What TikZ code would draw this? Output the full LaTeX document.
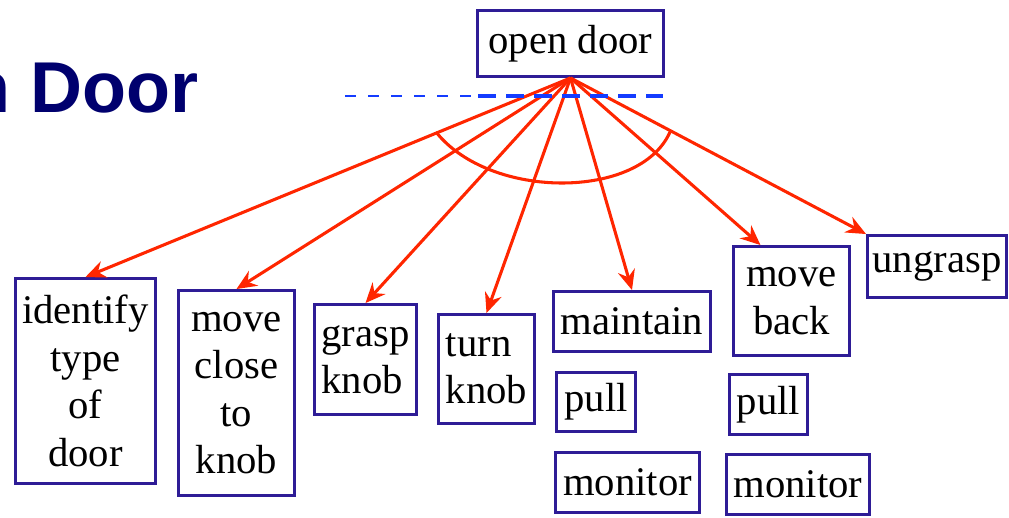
\documentclass[tikz,border=0pt]{standalone}
\usepackage{fontspec}
\setmainfont{Liberation Serif}
\newfontfamily\titlefont{Liberation Sans}
\usetikzlibrary{arrows.meta}
\definecolor{boxblue}{RGB}{46,28,150}
\definecolor{arcred}{RGB}{255,38,0}
\definecolor{lineblue}{RGB}{20,60,255}
\definecolor{navy}{RGB}{0,0,110}
\begin{document}
\begin{tikzpicture}[x=0.75pt, y=-0.75pt,
  task/.style={draw=boxblue, line width=2.2pt, fill=white, inner sep=0pt,
    align=center, font=\fontsize{30.5pt}{35.6pt}\selectfont},
  sub/.style={draw=arcred, line width=2.3pt,
    -{Stealth[length=15pt, width=13pt, inset=5pt]}}]
  \useasboundingbox (0,0) rectangle (1009,517);
  \node[anchor=base east, inner sep=0pt, text=navy,
    font=\titlefont\bfseries\fontsize{54pt}{60pt}\selectfont] (title) at (199,112) {n Door};
  \node[task, minimum width=139.5pt, minimum height=49.5pt] (t0) at (570.5,43.5) {open door};
  \node[task, minimum width=105pt, minimum height=153.75pt] (t1) at (85.5,381) {identify\\type\\of\\door};
  \node[task, minimum width=87pt, minimum height=153.75pt] (t2) at (236.5,393) {move\\close\\to\\knob};
  \node[task, align=left, minimum width=76.5pt, minimum height=82.5pt] (t3) at (365.5,359.5) {grasp\\knob};
  \node[task, align=left, minimum width=72pt, minimum height=81.75pt] (t4) at (486.5,369) {turn\\knob};
  \node[task, minimum width=117.75pt, minimum height=45pt] (t5) at (632,321.5) {maintain};
  \node[task, minimum width=59.25pt, minimum height=44.25pt] (p1) at (596,402) {pull};
  \node[task, minimum width=108pt, minimum height=45pt] (m1) at (627.5,482.5) {monitor};
  \node[task, minimum width=87pt, minimum height=81.75pt] (t6) at (791.5,301) {move\\back};
  \node[task, minimum width=58.5pt, minimum height=45pt] (p2) at (768.5,404.5) {pull};
  \node[task, minimum width=107.25pt, minimum height=45pt] (m2) at (798,484.5) {monitor};
  \node[task, minimum width=104.25pt, minimum height=46.5pt] (t7) at (937,266.5) {ungrasp};
  \draw[sub] (t0.south) -- (t1.north);
  \draw[sub] (t0.south) -- (t2.north);
  \draw[sub] (t0.south) -- (t3.north);
  \draw[sub] (t0.south) -- (t4.north);
  \draw[sub] (t0.south) -- (t5.north);
  \draw[sub] (t0.south) -- (t6.119);
  \draw[sub] (t0.south) -- (t7.north west);
  % and-arc over the subtask links
  \draw[arcred, line width=2.3pt] (436,132) .. controls (490,200) and (640,200) .. (670,132);
  \draw[lineblue, line width=1.1pt, dash pattern=on 8.25pt off 9pt] (345,96) -- (476,96);
  \draw[lineblue, line width=3pt, dash pattern=on 13.5pt off 7.5pt] (478,96) -- (663,96);
\end{tikzpicture}
\end{document}
